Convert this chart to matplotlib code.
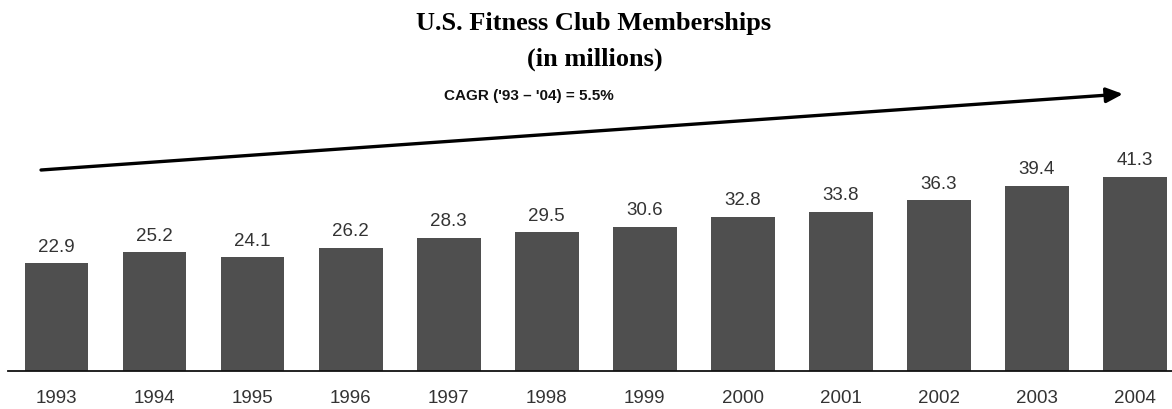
import matplotlib
matplotlib.use("Agg")
import matplotlib.pyplot as plt

years = ["1993", "1994", "1995", "1996", "1997", "1998", "1999", "2000", "2001", "2002", "2003", "2004"]
members = [22.9, 25.2, 24.1, 26.2, 28.3, 29.5, 30.6, 32.8, 33.8, 36.3, 39.4, 41.3]

W, H = 1172, 409
fig = plt.figure(figsize=(W / 100, H / 100), dpi=100)
base_px = 370.7
ax = fig.add_axes([8 / W, (H - base_px) / H, 1 - 8 / W, base_px / H])

x = list(range(len(years)))
ax.bar(x, members, width=0.65, color="#4f4f4f")
ax.set_xlim(-0.495, 11.377)
ax.set_ylim(0, base_px / 4.7)

for xi, v in zip(x, members):
    ax.annotate(f"{v}", (xi, v), xytext=(0, 8.3), textcoords="offset points",
                ha="center", va="baseline", fontsize=13.5, color="#333333",
                family="Liberation Sans")

ax.set_xticks(x)
ax.set_xticklabels(years, fontsize=13.5, color="#333333", family="Liberation Sans")
ax.tick_params(axis="x", length=0, pad=14)
ax.set_yticks([])
for s in ["top", "left", "right"]:
    ax.spines[s].set_visible(False)
ax.spines["bottom"].set_linewidth(1.3)
ax.spines["bottom"].set_color("#111111")

# trend arrow
def px2data(px, py):
    return ((px - 56.5) / 98.05, (base_px - py) / 4.7)

ax.annotate("", xy=px2data(1123, 94), xytext=px2data(41, 170),
            arrowprops=dict(arrowstyle="-|>,head_length=1.0,head_width=0.45",
                            color="black", lw=2.4, shrinkA=0, shrinkB=0),
            annotation_clip=False)

fig.text(594 / W, 1 - 30 / H, "U.S. Fitness Club Memberships", ha="center", va="baseline",
         fontsize=19, fontweight="bold", family="Liberation Serif")
fig.text(595 / W, 1 - 66 / H, "(in millions)", ha="center", va="baseline",
         fontsize=19, fontweight="bold", family="Liberation Serif")
fig.text(529 / W, 1 - 100 / H, "CAGR ('93 \u2013 '04) = 5.5%", ha="center", va="baseline",
         fontsize=11, fontweight="bold", family="Liberation Sans", color="#111111")

fig.savefig("out.png", dpi=100)
